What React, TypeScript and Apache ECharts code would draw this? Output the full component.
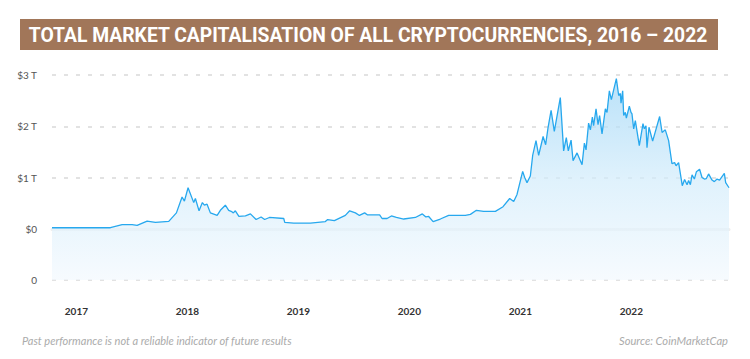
import React, { useEffect, useRef } from "react";
import * as echarts from "echarts";

// Decimal year of each observation
const years = [
  2016.78, 2017.306, 2017.412, 2017.502, 2017.547, 2017.637, 2017.712, 2017.832, 2017.901, 2017.952,
  2017.973, 2018.006, 2018.057, 2018.072, 2018.105, 2018.135, 2018.153, 2018.177, 2018.207, 2018.268,
  2018.297, 2018.342, 2018.372, 2018.394, 2018.414, 2018.432, 2018.464, 2018.523, 2018.568, 2018.619,
  2018.664, 2018.696, 2018.739, 2018.868, 2018.877, 2018.958, 2019.108, 2019.243, 2019.264, 2019.324,
  2019.423, 2019.462, 2019.514, 2019.55, 2019.597, 2019.624, 2019.732, 2019.754, 2019.799, 2019.838,
  2019.883, 2019.949, 2020.054, 2020.117, 2020.149, 2020.174, 2020.214, 2020.279, 2020.354, 2020.505,
  2020.55, 2020.604, 2020.669, 2020.775, 2020.844, 2020.904, 2020.94, 2020.97, 2021.021, 2021.039,
  2021.06, 2021.09, 2021.111, 2021.141, 2021.165, 2021.205, 2021.228, 2021.25, 2021.277, 2021.306,
  2021.36, 2021.39, 2021.414, 2021.432, 2021.457, 2021.475, 2021.511, 2021.556, 2021.577, 2021.592,
  2021.615, 2021.631, 2021.649, 2021.66, 2021.682, 2021.7, 2021.714, 2021.736, 2021.766, 2021.781,
  2021.802, 2021.82, 2021.865, 2021.886, 2021.901, 2021.907, 2021.922, 2021.931, 2021.946, 2021.955,
  2021.982, 2021.997, 2022.006, 2022.021, 2022.036, 2022.072, 2022.105, 2022.117, 2022.132, 2022.141,
  2022.159, 2022.192, 2022.255, 2022.277, 2022.306, 2022.336, 2022.366, 2022.39, 2022.403, 2022.426,
  2022.459, 2022.48, 2022.502, 2022.516, 2022.532, 2022.547, 2022.568, 2022.586, 2022.615, 2022.637,
  2022.658, 2022.676, 2022.696, 2022.727, 2022.748, 2022.772, 2022.795, 2022.838, 2022.85, 2022.88,
];

// Total market capitalisation, trillions of USD
const marketCapT = [
  0.02, 0.02, 0.08, 0.08, 0.066, 0.15, 0.125, 0.145, 0.31, 0.62,
  0.54, 0.8, 0.51, 0.59, 0.35, 0.51, 0.46, 0.48, 0.31, 0.26,
  0.36, 0.46, 0.36, 0.34, 0.31, 0.35, 0.24, 0.25, 0.29, 0.18,
  0.23, 0.18, 0.22, 0.2, 0.125, 0.11, 0.11, 0.14, 0.18, 0.16,
  0.26, 0.35, 0.31, 0.26, 0.31, 0.27, 0.27, 0.2, 0.2, 0.25,
  0.22, 0.19, 0.22, 0.29, 0.23, 0.24, 0.14, 0.19, 0.26, 0.26,
  0.28, 0.36, 0.34, 0.34, 0.43, 0.59, 0.53, 0.67, 1.12, 1.0,
  0.9, 1.03, 1.43, 1.72, 1.43, 1.8, 1.64, 1.98, 2.31, 1.9,
  2.56, 1.52, 1.78, 1.52, 1.73, 1.33, 1.48, 1.25, 1.67, 1.54,
  2.06, 1.93, 2.18, 2.01, 2.34, 2.03, 2.21, 1.85, 2.34, 2.27,
  2.69, 2.52, 2.93, 2.6, 2.64, 2.45, 2.69, 2.21, 2.27, 2.16,
  2.39, 2.27, 2.24, 1.95, 2.11, 1.62, 2.05, 1.95, 2.01, 1.58,
  1.98, 1.71, 2.19, 1.88, 1.93, 1.72, 1.27, 1.29, 1.23, 1.29,
  0.84, 0.96, 0.86, 0.94, 0.86, 1.05, 0.97, 1.11, 1.16, 1.0,
  0.97, 0.98, 1.07, 0.95, 0.92, 0.97, 0.95, 1.08, 0.9, 0.8,
];

const yTickValues = [-1, 0, 1, 2, 3];
const yTickLabels = ["0", "$0", "$1 T", "$2 T", "$3 T"];
const xYearLabels = [2017, 2018, 2019, 2020, 2021, 2022];

const titleText = "TOTAL MARKET CAPITALISATION OF ALL CRYPTOCURRENCIES, 2016 – 2022";
const footerLeft = "Past performance is not a reliable indicator of future results";
const footerRight = "Source: CoinMarketCap";

function fitScale(text: string, font: string, target: number): number {
  try {
    const ctx = document.createElement("canvas").getContext("2d");
    if (!ctx) return 1;
    ctx.font = font;
    const w = ctx.measureText(text).width;
    return w > 0 ? target / w : 1;
  } catch (e) {
    return 1;
  }
}

export default function App() {
  const ref = useRef<HTMLDivElement>(null);

  useEffect(() => {
    if (!ref.current) return;
    const chart = echarts.init(ref.current, undefined, { renderer: "svg" });

    const titleFont = "Roboto";
    const titleScale = fitScale(titleText, `bold 21px ${titleFont}`, 680);
    const footScaleL = fitScale(footerLeft, `italic 11px Lato`, 270);
    const footScaleR = fitScale(footerRight, `italic 11px Lato`, 109);

    chart.setOption({
      animation: false,
      backgroundColor: "#ffffff",
      grid: { left: 52, right: 21, top: 75, bottom: 79, containLabel: false },
      xAxis: {
        type: "value",
        min: 2016.78,
        max: 2022.88,
        splitNumber: 6,
        offset: 18,
        axisLine: { show: true, lineStyle: { color: "#eeeeee", width: 3 } },
        axisTick: { show: false },
        splitLine: { show: false },
        axisLabel: {
          showMinLabel: false,
          showMaxLabel: false,
          margin: 8,
          fontSize: 10,
          fontWeight: "bold",
          color: "#333333",
          fontFamily: "Lato",
          formatter: (v: number) => {
            const r = Math.round(v);
            return Math.abs(v - r) < 1e-6 && xYearLabels.indexOf(r) >= 0 ? String(r) : "";
          },
        },
      },
      yAxis: {
        type: "value",
        min: -1,
        max: 3,
        interval: 1,
        axisLine: { show: false },
        axisTick: { show: false },
        splitLine: { show: true, lineStyle: { color: "#e2e2e2", width: 2, type: [4, 8] } },
        axisLabel: {
          margin: 15,
          fontSize: 10,
          color: "#555555",
          fontFamily: "Lato",
          formatter: (v: number) => {
            const i = yTickValues.indexOf(Math.round(v));
            return i >= 0 ? yTickLabels[i] : "";
          },
        },
      },
      series: [
        {
          type: "line",
          data: years.map((y, i) => [y, marketCapT[i]]),
          showSymbol: false,
          symbol: "none",
          lineStyle: { color: "#27a8ee", width: 1.3 },
          areaStyle: {
            origin: "start",
            color: new echarts.graphic.LinearGradient(0, 0, 0, 1, [
              { offset: 0, color: "#9dd5f6" },
              { offset: 0.5, color: "#d2ecfb" },
              { offset: 1, color: "#f3f9fe" },
            ]),
          },
        },
      ],
      graphic: [
        {
          type: "rect",
          shape: { x: 20, y: 19, width: 698, height: 31 },
          style: { fill: "#a17659" },
        },
        {
          type: "text",
          x: 368,
          y: 35,
          scaleX: titleScale,
          style: {
            text: titleText,
            fill: "#ffffff",
            fontSize: 21,
            fontWeight: "bold",
            fontFamily: titleFont,
            textAlign: "center",
            textVerticalAlign: "middle",
          },
        },
        {
          type: "text",
          x: 22,
          y: 341,
          scaleX: footScaleL,
          style: {
            text: footerLeft,
            fill: "#ababab",
            fontSize: 11,
            fontStyle: "italic",
            fontFamily: "Lato",
            textAlign: "left",
            textVerticalAlign: "middle",
          },
        },
        {
          type: "text",
          x: 728,
          y: 341,
          scaleX: footScaleR,
          style: {
            text: footerRight,
            fill: "#ababab",
            fontSize: 11,
            fontStyle: "italic",
            fontFamily: "Lato",
            textAlign: "right",
            textVerticalAlign: "middle",
          },
        },
      ],
    });

    return () => {
      chart.dispose();
    };
  }, []);

  return (
    <div
      ref={ref}
      style={{ position: "fixed", left: 0, top: 0, width: 750, height: 359, background: "#fff" }}
    />
  );
}
